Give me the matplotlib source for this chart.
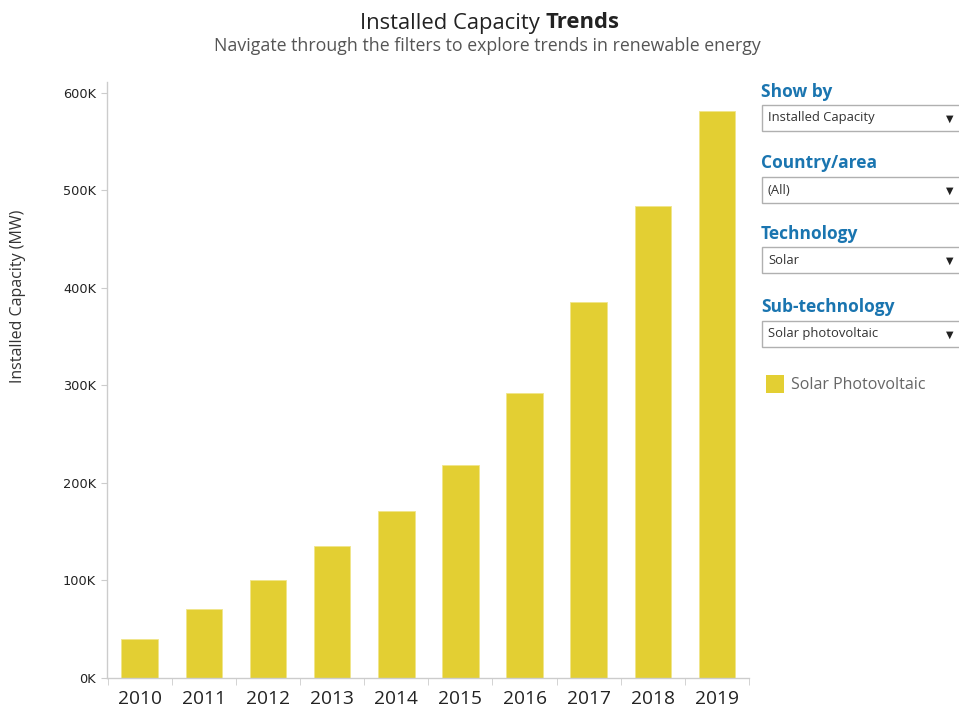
import matplotlib
matplotlib.use("Agg")
import matplotlib.pyplot as plt
from matplotlib.patches import Rectangle
from matplotlib.ticker import FuncFormatter

# Solar PV installed capacity (MW)
years = ["2010", "2011", "2012", "2013", "2014", "2015", "2016", "2017", "2018", "2019"]
capacity = [40100, 70900, 100700, 135700, 171600, 217900, 291900, 385400, 484000, 581700]

filters = ["Show by", "Country/area", "Technology", "Sub-technology"]
choices = ["Installed Capacity", "(All)", "Solar", "Solar photovoltaic"]
series_name = "Solar Photovoltaic"

bar_color = "#e3cf33"
blue = "#1a75b0"

plt.rcParams["font.family"] = ["Open Sans", "DejaVu Sans"]

W, H = 959, 708
fig = plt.figure(figsize=(W / 100, H / 100), dpi=100)
ax = fig.add_axes([107 / W, 1 - 678 / H, 642 / W, 596 / H])

x = range(len(years))
ax.bar(x, capacity, width=0.57, color=bar_color, edgecolor="#f0e58a", linewidth=0.6)

ax.set_xlim(-0.51, 9.49)
ax.set_ylim(0, 611000)
ax.set_yticks([0, 100000, 200000, 300000, 400000, 500000, 600000])
ax.yaxis.set_major_formatter(FuncFormatter(lambda v, p: f"{int(v / 1000)}K"))
for lab in ax.get_yticklabels():
    lab.set_family("DejaVu Sans")
ax.set_xticks(list(x))
ax.set_xticklabels(years, fontsize=13.8, color="#222222")
ax.set_xticks([i + 0.5 for i in range(-1, len(years))], minor=True)
ax.tick_params(axis="x", which="major", length=0, pad=9)
ax.tick_params(axis="x", which="minor", length=5, color="#cccccc")
ax.tick_params(axis="y", labelsize=9.3, length=4, color="#cccccc", labelcolor="#222222", pad=4)

for s in ["top", "right"]:
    ax.spines[s].set_visible(False)
for s in ["left", "bottom"]:
    ax.spines[s].set_color("#cccccc")
    ax.spines[s].set_linewidth(1)

fig.text(18 / W, 1 - 296 / H, "Installed Capacity (MW)", rotation=90, fontsize=11.5,
         color="#333333", ha="center", va="center")

# title: regular + bold part
split = 545 / W
fig.text(split, 1 - 23 / H, "Installed Capacity ", fontsize=15.8, ha="right", va="center", color="#222222")
fig.text(split, 1 - 23 / H, "Trends", fontsize=15.8, fontweight="bold", ha="left", va="center", color="#222222")
fig.text(487 / W, 1 - 46 / H, "Navigate through the filters to explore trends in renewable energy",
         fontsize=12.8, ha="center", va="center", color="#555555")

# filter panel
head_y = [92, 163, 234, 307]
box_y = [105, 177, 247, 321]
for name, choice, hy, by in zip(filters, choices, head_y, box_y):
    fig.text(761 / W, 1 - hy / H, name, fontsize=12.5, fontweight="bold", color=blue, va="center")
    fig.patches.append(Rectangle((762 / W, 1 - (by + 26) / H), 200 / W, 26 / H,
                                 transform=fig.transFigure, facecolor="white",
                                 edgecolor="#b0b0b0", linewidth=1))
    fig.text(768 / W, 1 - (by + 13) / H, choice, fontsize=9.4, color="#333333", va="center")
    fig.text(950 / W, 1 - (by + 14) / H, "▼", fontsize=7, color="#222222", va="center", ha="center",
             family="DejaVu Sans")

fig.patches.append(Rectangle((766 / W, 1 - 393 / H), 18 / W, 18 / H, transform=fig.transFigure,
                             facecolor=bar_color, edgecolor="none"))
fig.text(791 / W, 1 - 385 / H, series_name, fontsize=11.5, color="#666666", va="center")

fig.savefig("out.png", dpi=100)
